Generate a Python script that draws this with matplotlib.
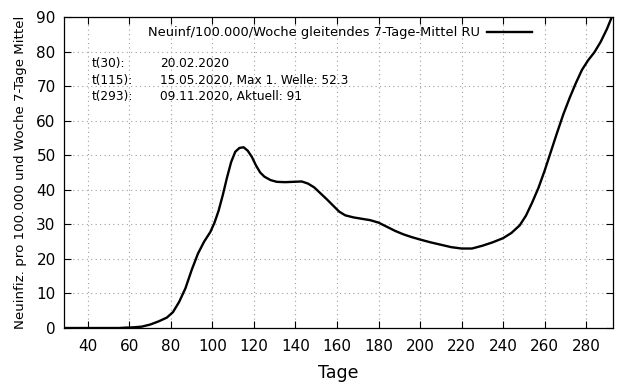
import matplotlib
matplotlib.use("Agg")
import matplotlib.pyplot as plt

# Tage seit Jahresbeginn und Neuinfektionen / 100.000 / Woche (7-Tage-Mittel)
tage = [28, 35, 45, 55, 58, 62, 66, 70, 74, 78, 81, 84, 87, 90, 93, 96, 99,
        101, 103, 105, 107, 109, 111, 113, 115, 117, 119, 121, 123, 125, 128,
        131, 135, 139, 143, 146, 149, 152, 155, 158, 161, 164, 168, 172, 176,
        180, 184, 188, 192, 196, 200, 205, 210, 215, 220, 225, 230, 235, 240,
        244, 248, 251, 254, 257, 260, 263, 266, 269, 272, 275, 278, 281, 284,
        287, 290, 293]
werte = [0, 0, 0, 0, 0.1, 0.2, 0.4, 1.0, 1.9, 3.0, 4.6, 7.6, 11.5, 16.8,
         21.5, 25.0, 27.8, 30.5, 34.0, 38.5, 43.5, 48.0, 51.0, 52.1, 52.3,
         51.3, 49.5, 47.0, 45.0, 43.8, 42.8, 42.3, 42.2, 42.3, 42.4, 41.8,
         40.7, 39.0, 37.3, 35.5, 33.7, 32.6, 32.0, 31.6, 31.2, 30.5, 29.3,
         28.1, 27.1, 26.3, 25.6, 24.8, 24.1, 23.4, 23.0, 23.0, 23.8, 24.8,
         26.0, 27.5, 29.7, 32.5, 36.3, 40.5, 45.5, 51.0, 56.5, 61.8, 66.5,
         70.8, 74.7, 77.5, 79.8, 82.8, 86.5, 90.9]

xticks = list(range(40, 281, 20))
yticks = list(range(0, 91, 10))

info_links = ["t(30):", "t(115):", "t(293):"]
info_rechts = ["20.02.2020", "15.05.2020, Max 1. Welle: 52.3",
               "09.11.2020, Aktuell: 91"]

fig = plt.figure(figsize=(6.4, 3.84), dpi=100)
ax = fig.add_axes([0.1, 0.1458, 0.858, 0.81])

ax.plot(tage, werte, color="black", lw=1.7,
        label="Neuinf/100.000/Woche gleitendes 7-Tage-Mittel RU")

ax.set_xlim(28.5, 293)
ax.set_ylim(0, 90)
ax.set_xticks(xticks)
ax.set_yticks(yticks)
ax.tick_params(direction="in", length=5, width=0.8, top=True, right=True,
               labelsize=11)
ax.tick_params(axis="x", pad=8)
ax.tick_params(axis="y", pad=6)
for s in ax.spines.values():
    s.set_linewidth(0.9)
ax.grid(True, color="#a0a0a0", linestyle=(0, (1, 3)), lw=0.8)

ax.set_xlabel("Tage", fontsize=12.5, labelpad=7)
ax.set_ylabel("Neuinfiz. pro 100.000 und Woche 7-Tage Mittel", fontsize=9.6,
              labelpad=7)

ax.legend(loc="center right", bbox_to_anchor=(0.852, 0.949), frameon=False,
          markerfirst=False, handlelength=3.4, borderpad=0, borderaxespad=0,
          handletextpad=0.6, fontsize=9.4)

ys = [0.849, 0.797, 0.743]
for yy, a, b in zip(ys, info_links, info_rechts):
    ax.text(0.051, yy, a, transform=ax.transAxes, fontsize=8.7, va="center")
    ax.text(0.175, yy, b, transform=ax.transAxes, fontsize=8.7, va="center")

fig.savefig("out.png", dpi=100)
